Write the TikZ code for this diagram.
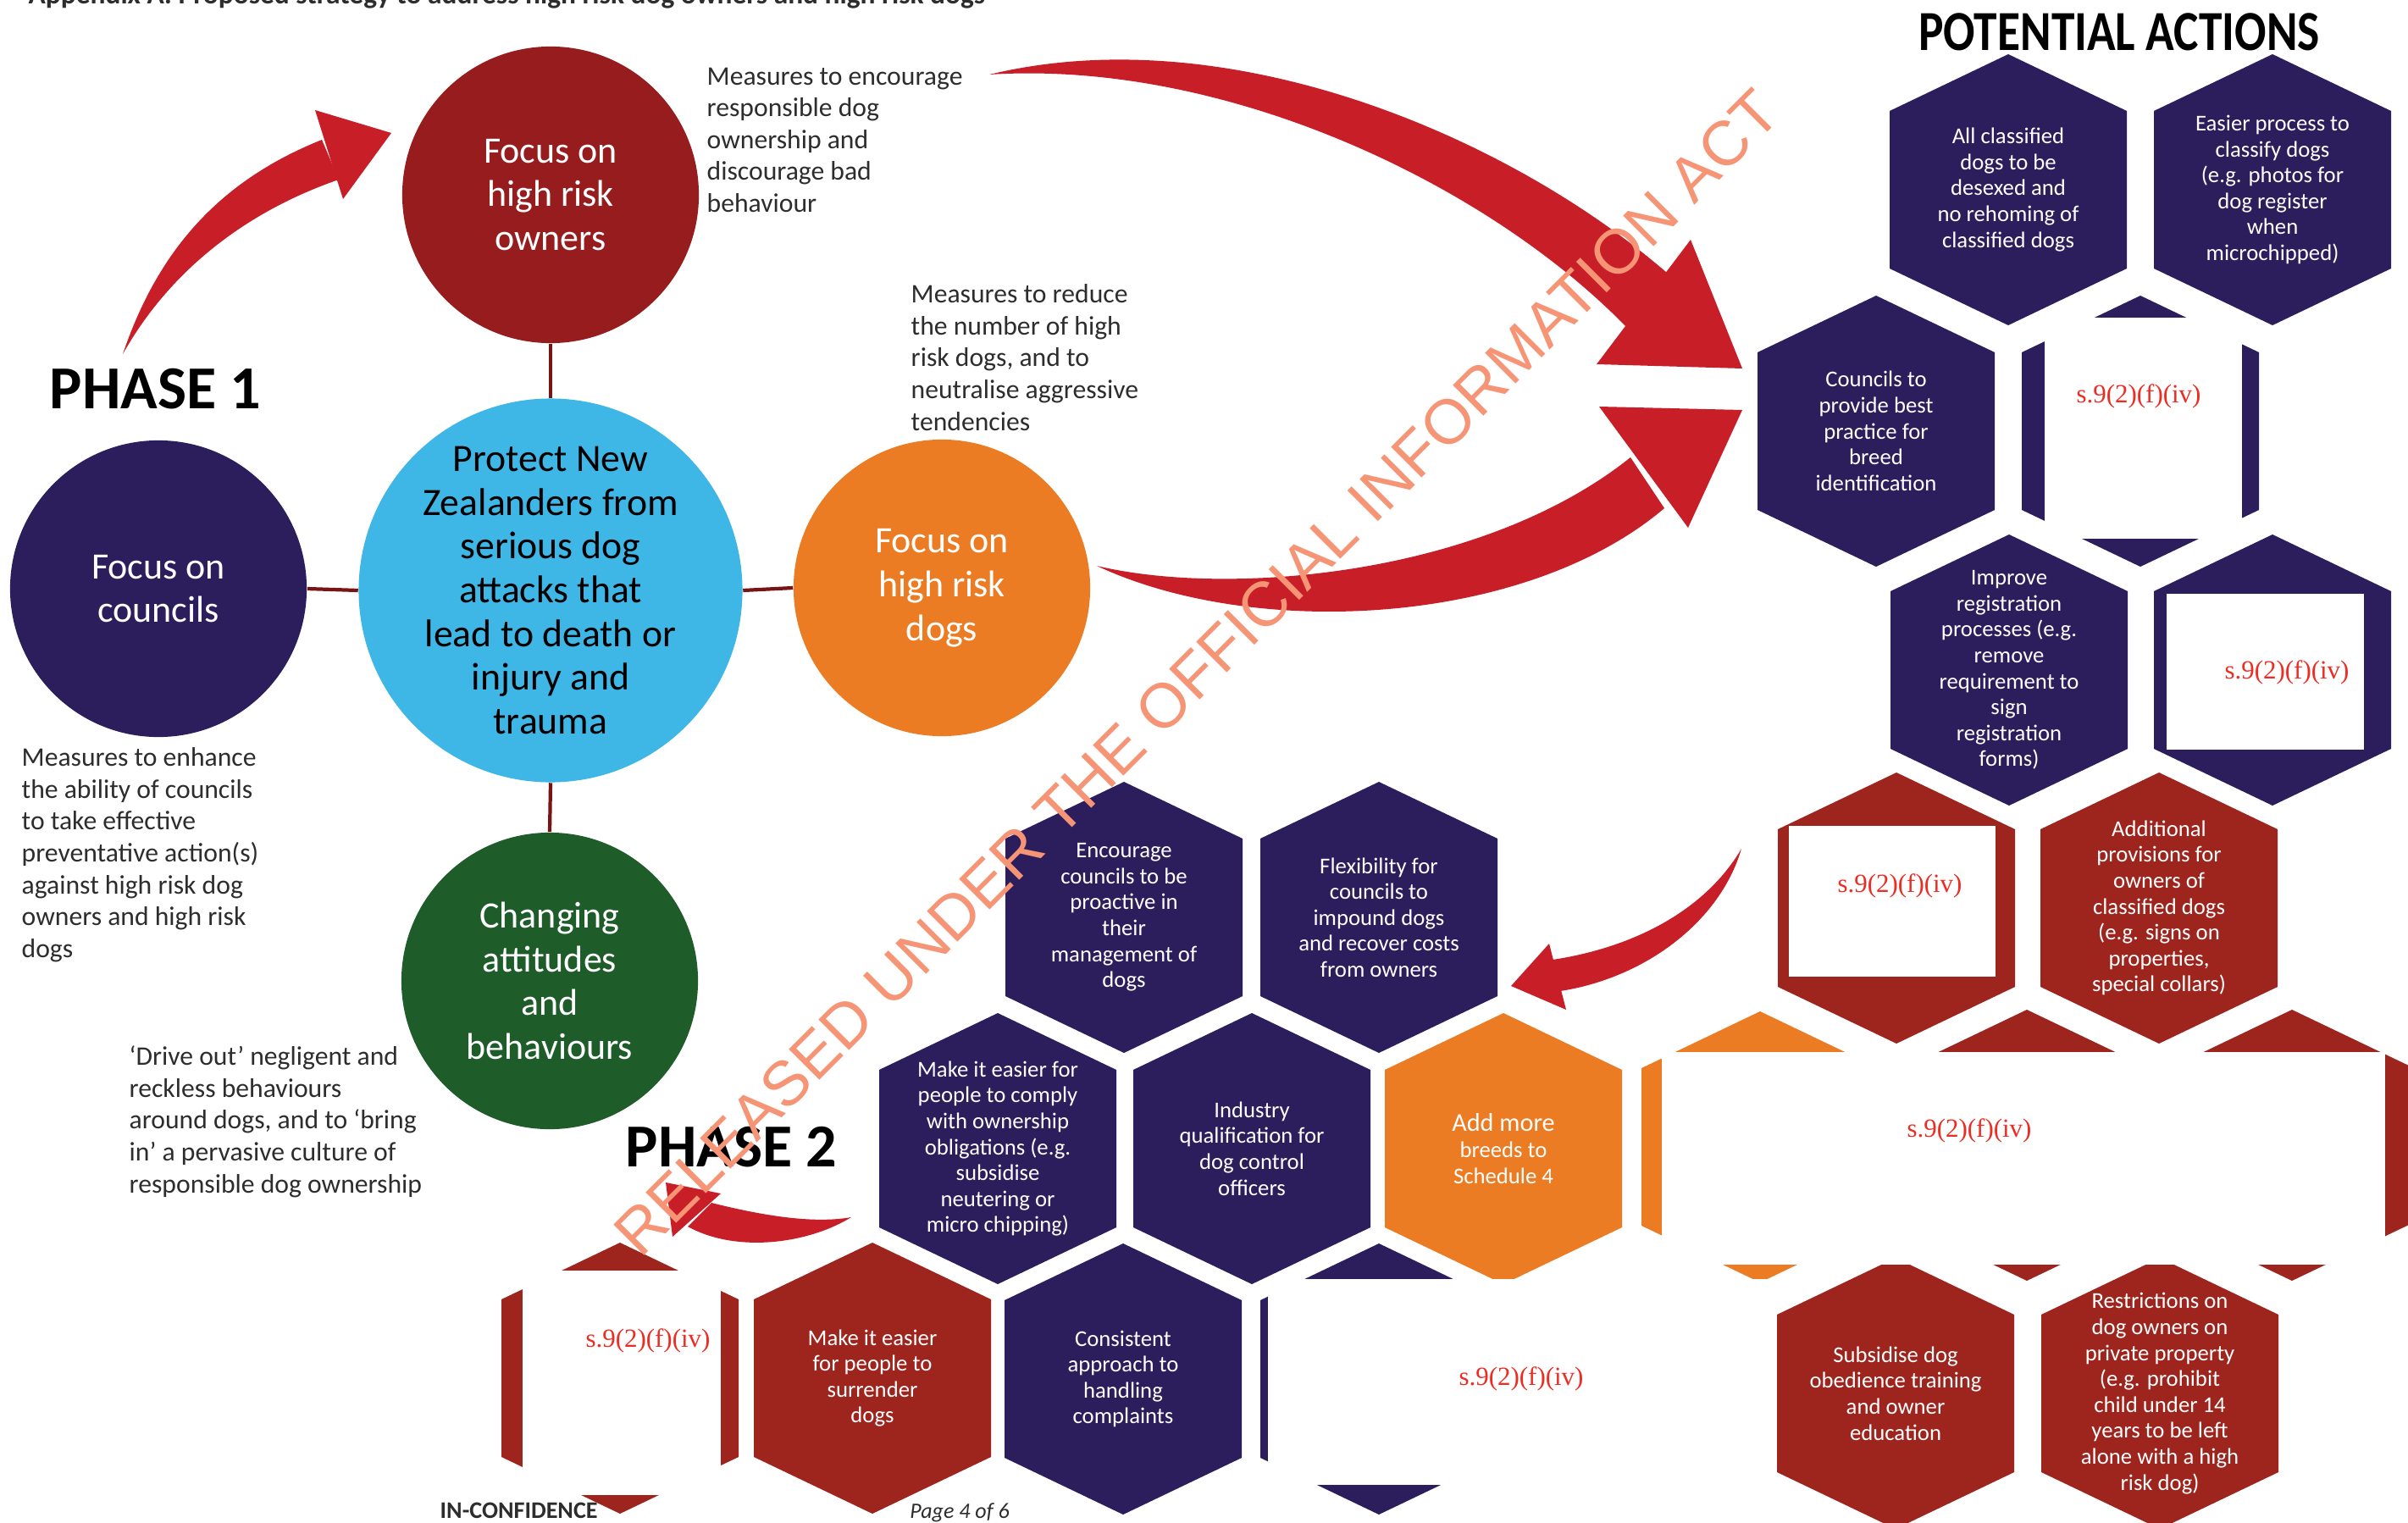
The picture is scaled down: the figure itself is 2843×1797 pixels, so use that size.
\documentclass[tikz,border=0pt]{standalone}
\usepackage{fontspec}
\setmainfont{Carlito}
\newfontfamily\redfont{Liberation Serif}
\newfontfamily\wmfont{Liberation Sans}
\definecolor{navy}{RGB}{44,30,92}
\definecolor{hexred}{RGB}{158,36,30}
\definecolor{ownred}{RGB}{150,28,30}
\definecolor{lblue}{RGB}{62,183,230}
\definecolor{dorange}{RGB}{236,124,35}
\definecolor{dgreen}{RGB}{30,92,42}
\definecolor{arrowred}{RGB}{200,30,40}
\definecolor{linkred}{RGB}{120,20,20}
\definecolor{wmark}{RGB}{246,148,118}
\definecolor{redactred}{RGB}{235,45,35}
\definecolor{textgray}{RGB}{45,45,45}
\newcommand{\hexcell}[5]{%
  \fill[#4] (#2,#3-160) -- (#2+140,#3-93) -- (#2+140,#3+93) -- (#2,#3+160) -- (#2-140,#3+93) -- (#2-140,#3-93) -- cycle;
  \node[hextext] (#1) at (#2,#3) {#5};
}
\tikzset{
  circ/.style={circle, inner sep=0pt, text=white, align=center, font=\fontsize{12.5}{14.7}\selectfont},
  hextext/.style={text=white, align=center, inner sep=0pt, font=\fontsize{7.6}{8.7}\selectfont},
  side/.style={anchor=north west, align=left, inner sep=0pt, text=textgray, font=\fontsize{9}{10.7}\selectfont},
  redtext/.style={text=redactred, inner sep=0pt, font=\redfont\fontsize{8.8}{10}\selectfont},
  link/.style={draw=linkred, line width=1.2pt},
  swoosh/.style={fill=arrowred},
  phase/.style={anchor=base west, inner sep=0pt, text=black, font=\bfseries\fontsize{20.5}{22}\selectfont},
}
\begin{document}
\begin{tikzpicture}[x=0.01cm, y=-0.01cm]
\useasboundingbox (0,0) rectangle (2843,1797);
\fill[white] (0,0) rectangle (2843,1797);

% header (cut off at top)
\node[anchor=base west, inner sep=0pt, font=\bfseries\fontsize{9.5}{11}\selectfont, text=textgray] (header) at (33,5) {Appendix A: Proposed strategy to address high risk dog owners and high risk dogs};

% ---------- hexagons ----------
\hexcell{h1}{2371}{224}{navy}{All classified\\dogs to be\\desexed and\\no rehoming of\\classified dogs}
\hexcell{h2}{2683}{224}{navy}{Easier process to\\classify dogs\\(e.g. photos for\\dog register\\when\\microchipped)}
\hexcell{h3}{2215}{509}{navy}{Councils to\\provide best\\practice for\\breed\\identification}
\hexcell{h4}{2527}{509}{navy}{}
\hexcell{h5}{2372}{791}{navy}{Improve\\registration\\processes (e.g.\\remove\\requirement to\\sign\\registration\\forms)}
\hexcell{h6}{2683}{791}{navy}{}
\hexcell{h7}{2239}{1072}{hexred}{}
\hexcell{h8}{2549}{1072}{hexred}{Additional\\provisions for\\owners of\\classified dogs\\(e.g. signs on\\properties,\\special collars)}
\hexcell{encourage}{1327}{1083}{navy}{Encourage\\councils to be\\proactive in\\their\\management of\\dogs}
\hexcell{flex}{1628}{1083}{navy}{Flexibility for\\councils to\\impound dogs\\and recover costs\\from owners}
\hexcell{comply}{1178}{1356}{navy}{Make it easier for\\people to comply\\with ownership\\obligations (e.g.\\subsidise\\neutering or\\micro chipping)}
\hexcell{industry}{1478}{1356}{navy}{Industry\\qualification for\\dog control\\officers}
\hexcell{addmore}{1775}{1356}{dorange}{\fontsize{8.6}{9.2}\selectfont Add more\\breeds to\\Schedule 4}
\hexcell{r5a}{2078}{1354}{dorange}{}
\hexcell{r5b}{2393}{1352}{hexred}{}
\hexcell{r5c}{2706}{1352}{hexred}{}
\hexcell{r6a}{732}{1627}{hexred}{}
\hexcell{surrender}{1030}{1627}{hexred}{Make it easier\\for people to\\surrender\\dogs}
\hexcell{consistent}{1326}{1628}{navy}{Consistent\\approach to\\handling\\complaints}
\hexcell{r6d}{1628}{1628}{navy}{}
\hexcell{subsidise}{2238}{1645}{hexred}{Subsidise dog\\obedience training\\and owner\\education}
\hexcell{restrict}{2550}{1645}{hexred}{Restrictions on\\dog owners on\\private property\\(e.g. prohibit\\child under 14\\years to be left\\alone with a high\\risk dog)}

% ---------- redactions ----------
\fill[white] (2414,375) rectangle (2647,636);
\fill[white] (2558,701) rectangle (2791,885);
\fill[white] (2112,975) rectangle (2356,1153);
\fill[white] (1962,1242) rectangle (2816,1493);
\fill[white] (617,1500) rectangle (851,1765);
\fill[white] (1497,1510) rectangle (2088,1753);
\node[redtext] (red1) at (2525,468) {s.9(2)(f)(iv)};
\node[redtext] (red2) at (2700,794) {s.9(2)(f)(iv)};
\node[redtext] (red3) at (2243,1046) {s.9(2)(f)(iv)};
\node[redtext] (red4) at (2325,1335) {s.9(2)(f)(iv)};
\node[redtext] (red5) at (765,1583) {s.9(2)(f)(iv)};
\node[redtext] (red6) at (1796,1628) {s.9(2)(f)(iv)};

% ---------- circles ----------
\node[circ, fill=ownred, minimum size=3.5cm] (owners) at (650,230) {Focus on\\high risk\\owners};
\node[circ, fill=navy, minimum size=3.5cm] (councils) at (187,695) {Focus on\\councils};
\node[circ, fill=lblue, minimum size=4.34cm, text=black, font=\fontsize{13}{14.7}\selectfont] (protect) at (650,697) {Protect New\\Zealanders from\\serious dog\\attacks that\\lead to death or\\injury and\\trauma};
\node[circ, fill=dorange, minimum size=3.5cm] (dogs) at (1112,694) {Focus on\\high risk\\dogs};
\node[circ, fill=dgreen, minimum size=3.5cm] (changing) at (649,1158) {Changing\\attitudes\\and\\behaviours};
\draw[link] (owners.south) -- (protect.north);
\draw[link] (councils.east) -- (protect.west);
\draw[link] (protect.east) -- (dogs.west);
\draw[link] (protect.south) -- (changing.north);

% ---------- side texts ----------
\node[side] (t1) at (834,79) {Measures to encourage\\responsible dog\\ownership and\\discourage bad\\behaviour};
\node[side] (t2) at (1075,335) {Measures to reduce\\the number of high\\risk dogs, and to\\neutralise aggressive\\tendencies};
\node[side] (t3) at (25,882) {Measures to enhance\\the ability of councils\\to take effective\\preventative action(s)\\against high risk dog\\owners and high risk\\dogs};
\node[side] (t4) at (152,1234) {`Drive out' negligent and\\reckless behaviours\\around dogs, and to `bring\\in' a pervasive culture of\\responsible dog ownership};

\node[phase] (phase1) at (58,482) {PHASE 1};
\node[phase] (phase2) at (738,1377) {PHASE 2};
\node[anchor=base, inner sep=0pt, font=\bfseries\fontsize{19}{22}\selectfont, xscale=0.83] (pa) at (2502,60) {POTENTIAL ACTIONS};

% ---------- arrows ----------
\fill[swoosh] (145,418) .. controls (185,300) and (255,215) .. (380,165) -- (400,212) .. controls (290,250) and (200,320) .. (145,418) -- cycle;
\fill[swoosh] (372,130) -- (462,157) -- (405,235) -- cycle;
\fill[swoosh] (1168,88) .. controls (1450,20) and (1780,160) .. (1968,322) -- (1922,388) .. controls (1760,220) and (1450,70) .. (1168,88) -- cycle;
\fill[swoosh] (1996,283) -- (2057,435) -- (1885,430) -- cycle;
\fill[swoosh] (1295,668) .. controls (1450,705) and (1750,680) .. (1925,540) -- (1965,600) .. controls (1800,740) and (1480,755) .. (1295,668) -- cycle;
\fill[swoosh] (1888,480) -- (2057,484) -- (1993,623) -- cycle;
\fill[swoosh] (2056,1002) .. controls (2010,1080) and (1920,1120) .. (1833,1133) -- (1842,1170) .. controls (1940,1155) and (2030,1090) .. (2056,1002) -- cycle;
\fill[swoosh] (1829,1114) -- (1784,1164) -- (1849,1192) -- cycle;
\fill[swoosh] (1005,1437) .. controls (960,1445) and (900,1435) .. (840,1420) -- (812,1448) .. controls (870,1480) and (955,1468) .. (1005,1437) -- cycle;
\fill[swoosh] (786,1396) -- (851,1409) -- (794,1460) -- cycle;

% ---------- footer ----------
\node[anchor=base west, inner sep=0pt, font=\bfseries\fontsize{8}{9}\selectfont, text=textgray] (conf) at (519,1792) {IN-CONFIDENCE};
\node[anchor=base, inner sep=0pt, font=\itshape\fontsize{7.4}{9}\selectfont, text=textgray] (page) at (1133,1792) {Page 4 of 6};

% ---------- watermark ----------
\node[rotate=45, inner sep=0pt, text=wmark, font=\wmfont\fontsize{21.1}{24}\selectfont] (wm) at (1413,794) {RELEASED UNDER THE OFFICIAL INFORMATION ACT};
\end{tikzpicture}
\end{document}
